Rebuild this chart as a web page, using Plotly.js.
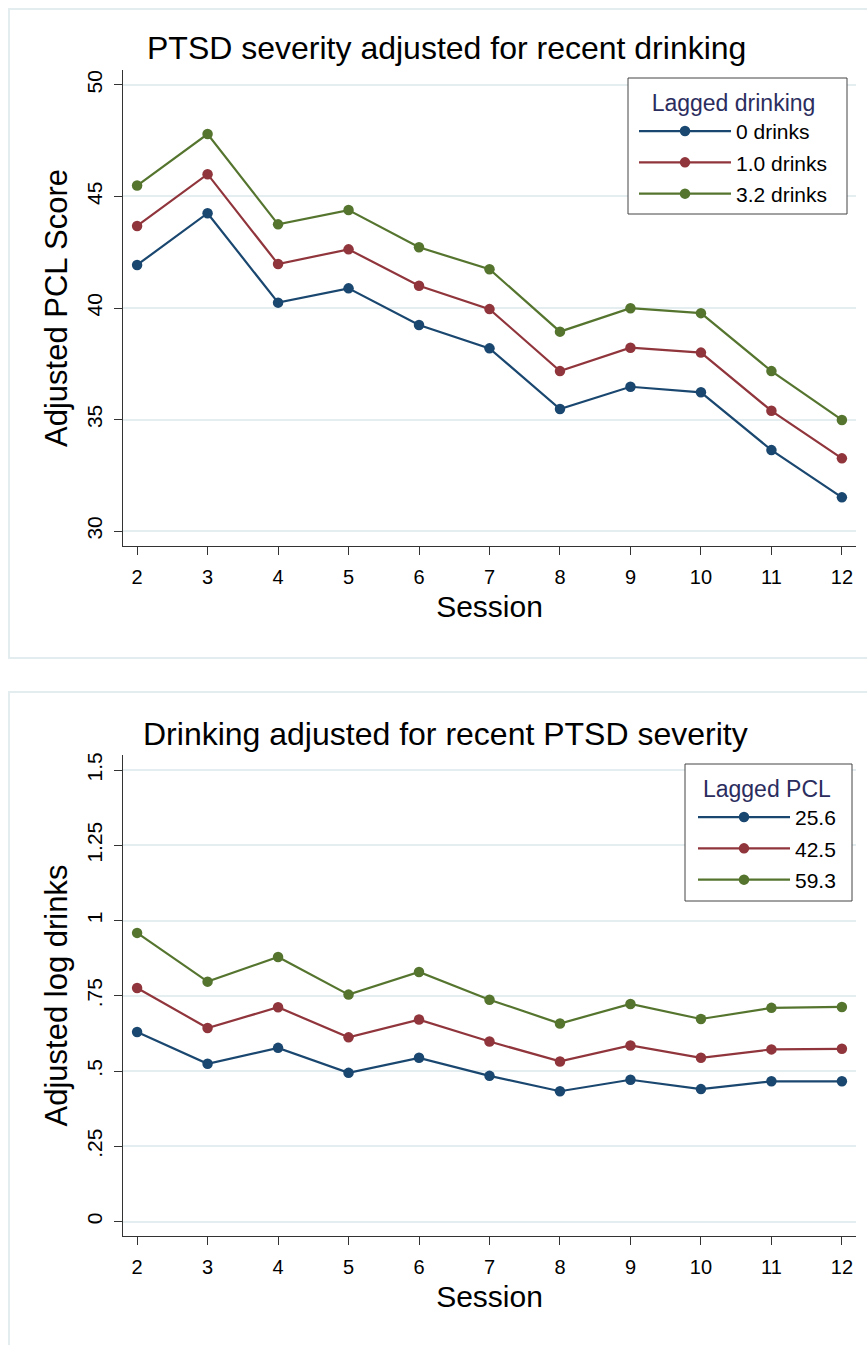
<!DOCTYPE html>
<html>
<head>
<meta charset="utf-8">
<script src="https://cdn.plot.ly/plotly-3.0.1.min.js"></script>
<style>
  html, body { margin: 0; padding: 0; background: #ffffff; }
  #chart { width: 867px; height: 1345px; }
</style>
</head>
<body>
<div id="chart"></div>
<script>
// ---- Data ----
const sessions = [2, 3, 4, 5, 6, 7, 8, 9, 10, 11, 12];

// Panel 1: Adjusted PCL score by lagged drinking
const pclLegendTitle = "Lagged drinking";
const pclSeriesNames = ["0 drinks", "1.0 drinks", "3.2 drinks"];
const pcl_0drinks  = [41.93, 44.25, 40.24, 40.88, 39.24, 38.19, 35.47, 36.47, 36.22, 33.63, 31.51];
const pcl_1drinks  = [43.68, 46.00, 41.97, 42.63, 41.00, 39.95, 37.17, 38.22, 38.00, 35.39, 33.26];
const pcl_32drinks = [45.49, 47.80, 43.75, 44.39, 42.72, 41.74, 38.94, 39.99, 39.77, 37.17, 34.98];
const pclTickVals = [30, 35, 40, 45, 50];
const pclTickText = ["30", "35", "40", "45", "50"];

// Panel 2: Adjusted log drinks by lagged PCL
const drinkLegendTitle = "Lagged PCL";
const drinkSeriesNames = ["25.6", "42.5", "59.3"];
const drinks_pcl256 = [0.630, 0.524, 0.577, 0.494, 0.544, 0.484, 0.433, 0.471, 0.440, 0.466, 0.466];
const drinks_pcl425 = [0.776, 0.643, 0.712, 0.612, 0.671, 0.598, 0.532, 0.585, 0.544, 0.572, 0.574];
const drinks_pcl593 = [0.959, 0.797, 0.879, 0.754, 0.829, 0.737, 0.658, 0.723, 0.673, 0.710, 0.713];
const drinkTickVals = [0, 0.25, 0.5, 0.75, 1, 1.25, 1.5];
const drinkTickText = ["0", ".25", ".5", ".75", "1", "1.25", "1.5"];

const titles = ["PTSD severity adjusted for recent drinking", "Drinking adjusted for recent PTSD severity"];
const yTitles = ["Adjusted PCL Score", "Adjusted log drinks"];
const xTitle = "Session";

// ---- Styling ----
const colors = ["#1a476f", "#90353b", "#55752f"];
const FONT = "Liberation Sans, Arial, Helvetica, sans-serif";
const W = 867, H = 1345;
const px = v => v / W;
const py = v => 1 - v / H;

function series(x, y, name, color, xa, ya, legend, grp) {
  return {
    type: "scatter", mode: "lines+markers", x: x, y: y, name: name,
    xaxis: xa, yaxis: ya, legend: legend, legendgroup: grp,
    line: { color: color, width: 2.2 },
    marker: { color: color, size: 10.5, symbol: "circle" },
    hoverinfo: "x+y+name"
  };
}

const traces = [
  series(sessions, pcl_0drinks,  pclSeriesNames[0], colors[0], "x", "y", "legend", "a0"),
  series(sessions, pcl_1drinks,  pclSeriesNames[1], colors[1], "x", "y", "legend", "a1"),
  series(sessions, pcl_32drinks, pclSeriesNames[2], colors[2], "x", "y", "legend", "a2"),
  series(sessions, drinks_pcl256, drinkSeriesNames[0], colors[0], "x2", "y2", "legend2", "b0"),
  series(sessions, drinks_pcl425, drinkSeriesNames[1], colors[1], "x2", "y2", "legend2", "b1"),
  series(sessions, drinks_pcl593, drinkSeriesNames[2], colors[2], "x2", "y2", "legend2", "b2")
];

const gridColor = "#e4edf0";
const axisColor = "#333333";

function xAxis(anchor) {
  return {
    anchor: anchor,
    domain: [px(123), px(856)],
    range: [1.8, 12.2],
    tickvals: sessions,
    ticktext: sessions.map(String),
    ticks: "outside", ticklen: 8, tickwidth: 1, tickcolor: axisColor,
    ticklabelstandoff: 5,
    showline: true, linecolor: axisColor, linewidth: 1,
    showgrid: false, zeroline: false,
    tickfont: { family: FONT, size: 20, color: "#000" },
    title: { text: xTitle, font: { family: FONT, size: 30, color: "#000" }, standoff: 8 }
  };
}

function yAxis(anchor, domain, range, vals, text, title) {
  return {
    anchor: anchor,
    domain: domain,
    range: range,
    tickvals: vals, ticktext: text, tickangle: -90,
    ticks: "outside", ticklen: 8, tickwidth: 1, tickcolor: axisColor,
    ticklabelstandoff: 4,
    showline: true, linecolor: axisColor, linewidth: 1,
    showgrid: true, gridcolor: gridColor, gridwidth: 1.5,
    zeroline: false,
    tickfont: { family: FONT, size: 21, color: "#000" },
    title: { text: title, font: { family: FONT, size: 31, color: "#000" }, standoff: 5 }
  };
}

function legendBox(x, yTop, title) {
  return {
    x: px(x), y: py(yTop), xanchor: "left", yanchor: "top",
    bgcolor: "rgba(0,0,0,0)", borderwidth: 0,
    font: { family: FONT, size: 21, color: "#000" },
    title: { text: title, side: "top center", font: { family: FONT, size: 23, color: "#2b2d5e" } },
    itemwidth: 92, tracegroupgap: 1, itemclick: false, itemdoubleclick: false
  };
}

function boxShape(x0, y0, x1, y1) {
  return { type: "rect", xref: "paper", yref: "paper", x0: px(x0), x1: px(x1), y0: py(y1), y1: py(y0),
    line: { color: "#444444", width: 1 }, fillcolor: "#ffffff", layer: "above" };
}

const layout = {
  width: W, height: H,
  margin: { l: 0, r: 0, t: 0, b: 0 },
  paper_bgcolor: "#ffffff", plot_bgcolor: "#ffffff",
  font: { family: FONT, color: "#000" },
  showlegend: true,
  xaxis: xAxis("y"),
  yaxis: yAxis("x", [py(546), py(70)], [29.33, 50.67], pclTickVals, pclTickText, yTitles[0]),
  xaxis2: xAxis("y2"),
  yaxis2: yAxis("x2", [py(1236), py(755)], [-0.048, 1.55], drinkTickVals, drinkTickText, yTitles[1]),
  legend: legendBox(634, 81, pclLegendTitle),
  legend2: legendBox(693, 767, drinkLegendTitle),
  shapes: [
    { type: "rect", xref: "paper", yref: "paper", x0: px(9), x1: px(880), y0: py(658), y1: py(9),
      line: { color: "#e3ecef", width: 2 }, fillcolor: "rgba(0,0,0,0)", layer: "below" },
    { type: "rect", xref: "paper", yref: "paper", x0: px(9), x1: px(880), y0: py(1360), y1: py(692),
      line: { color: "#e3ecef", width: 2 }, fillcolor: "rgba(0,0,0,0)", layer: "below" },
    boxShape(628, 78, 847, 214),
    boxShape(685, 764, 852, 901)
  ],
  annotations: [
    { text: titles[0], xref: "paper", yref: "paper", x: px(446.5), y: py(48), xanchor: "center", yanchor: "middle",
      showarrow: false, font: { family: FONT, size: 32, color: "#000" } },
    { text: titles[1], xref: "paper", yref: "paper", x: px(445.5), y: py(734), xanchor: "center", yanchor: "middle",
      showarrow: false, font: { family: FONT, size: 32, color: "#000" } }
  ]
};

Plotly.newPlot("chart", traces, layout, { displayModeBar: false, staticPlot: false, responsive: false });
</script>
</body>
</html>
